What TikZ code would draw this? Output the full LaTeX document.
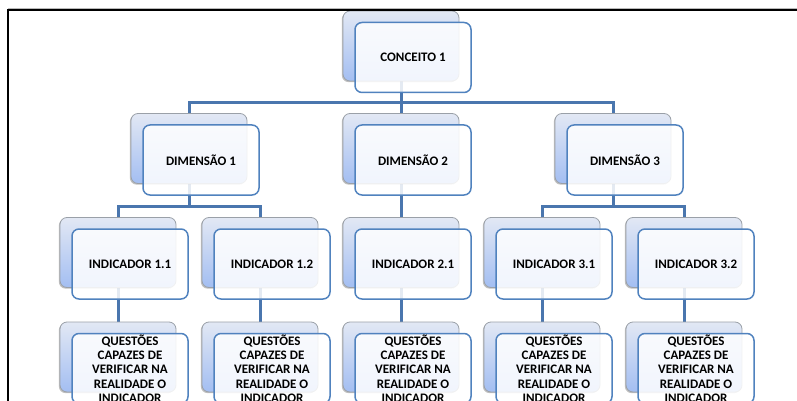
\documentclass[tikz,border=0pt]{standalone}
\usepackage{fontspec}
\setmainfont{Carlito}
\usetikzlibrary{shadows}
\definecolor{connblue}{HTML}{4A76AE}
\definecolor{fborder}{HTML}{5082BE}
\definecolor{btop}{HTML}{E2E8F4}
\definecolor{bbot}{HTML}{A3BEF2}
\definecolor{bborder}{HTML}{9AA0A8}
\pgfdeclarelayer{bg}
\pgfsetlayers{bg,main}
\begin{document}
\begin{tikzpicture}[x=1pt,y=-1pt,
  backbox/.style={rectangle, rounded corners=7pt, minimum width=116pt, minimum height=70pt,
    inner sep=0pt, draw=bborder, line width=0.8pt, top color=btop, bottom color=bbot,
    drop shadow={shadow xshift=-1.2pt, shadow yshift=-1.2pt, opacity=0.25, fill=black}},
  frontbox/.style={rectangle, rounded corners=7pt, minimum width=116pt, minimum height=70pt,
    inner sep=0pt, draw=fborder, line width=1.5pt, fill=white, fill opacity=0.85, text opacity=1,
    font=\bfseries\fontsize{13}{14.3}\selectfont, align=center},
  connline/.style={draw=connblue, line width=3pt}]
\useasboundingbox (0,0) rectangle (797,401);
% back boxes
\node[backbox] (bC) at (401,46) {};
\node[backbox] (bD1) at (189,148.5) {};
\node[backbox] (bD2) at (401,148.5) {};
\node[backbox] (bD3) at (613,148.5) {};
\node[backbox] (bI11) at (118,252.5) {};
\node[backbox] (bI12) at (260,252.5) {};
\node[backbox] (bI21) at (401,252.5) {};
\node[backbox] (bI31) at (542,252.5) {};
\node[backbox] (bI32) at (684,252.5) {};
\node[backbox] (bQ11) at (118,357) {};
\node[backbox] (bQ12) at (260,357) {};
\node[backbox] (bQ21) at (401,357) {};
\node[backbox] (bQ31) at (542,357) {};
\node[backbox] (bQ32) at (684,357) {};
% front boxes
\node[frontbox] (C) at (413,57.5) {CONCEITO 1};
\node[frontbox] (D1) at (201,160) {DIMENSÃO 1};
\node[frontbox] (D2) at (413,160) {DIMENSÃO 2};
\node[frontbox] (D3) at (625,160) {DIMENSÃO 3};
\node[frontbox] (I11) at (130,264) {INDICADOR 1.1};
\node[frontbox] (I12) at (272,264) {INDICADOR 1.2};
\node[frontbox] (I21) at (413,264) {INDICADOR 2.1};
\node[frontbox] (I31) at (554,264) {INDICADOR 3.1};
\node[frontbox] (I32) at (696,264) {INDICADOR 3.2};
\node[frontbox] (Q11) at (130,368.5) {QUESTÕES\\CAPAZES DE\\VERIFICAR NA\\REALIDADE O\\INDICADOR};
\node[frontbox] (Q12) at (272,368.5) {QUESTÕES\\CAPAZES DE\\VERIFICAR NA\\REALIDADE O\\INDICADOR};
\node[frontbox] (Q21) at (413,368.5) {QUESTÕES\\CAPAZES DE\\VERIFICAR NA\\REALIDADE O\\INDICADOR};
\node[frontbox] (Q31) at (554,368.5) {QUESTÕES\\CAPAZES DE\\VERIFICAR NA\\REALIDADE O\\INDICADOR};
\node[frontbox] (Q32) at (696,368.5) {QUESTÕES\\CAPAZES DE\\VERIFICAR NA\\REALIDADE O\\INDICADOR};
% junctions
\coordinate (j0) at (401,103);
\coordinate (j1) at (189,206);
\coordinate (j3) at (613,206);
\begin{pgfonlayer}{bg}
\draw[connline] (bC.south) -- (j0) -| (bD1.north);
\draw[connline] (j0) -| (bD3.north);
\draw[connline] (j0) -- (bD2.north);
\draw[connline] (bD1.south) -- (j1) -| (bI11.north);
\draw[connline] (j1) -| (bI12.north);
\draw[connline] (bD2.south) -- (bI21.north);
\draw[connline] (bD3.south) -- (j3) -| (bI31.north);
\draw[connline] (j3) -| (bI32.north);
\draw[connline] (bI11.south) -- (bQ11.north);
\draw[connline] (bI12.south) -- (bQ12.north);
\draw[connline] (bI21.south) -- (bQ21.north);
\draw[connline] (bI31.south) -- (bQ31.north);
\draw[connline] (bI32.south) -- (bQ32.north);
\end{pgfonlayer}
% frame
\draw[gray!55, line width=1pt] (8,8.3) -- (797,8.3);
\draw[black, line width=1.8pt] (7.6,401) -- (7.6,10.2) -- (797,10.2);
\end{tikzpicture}
\end{document}
